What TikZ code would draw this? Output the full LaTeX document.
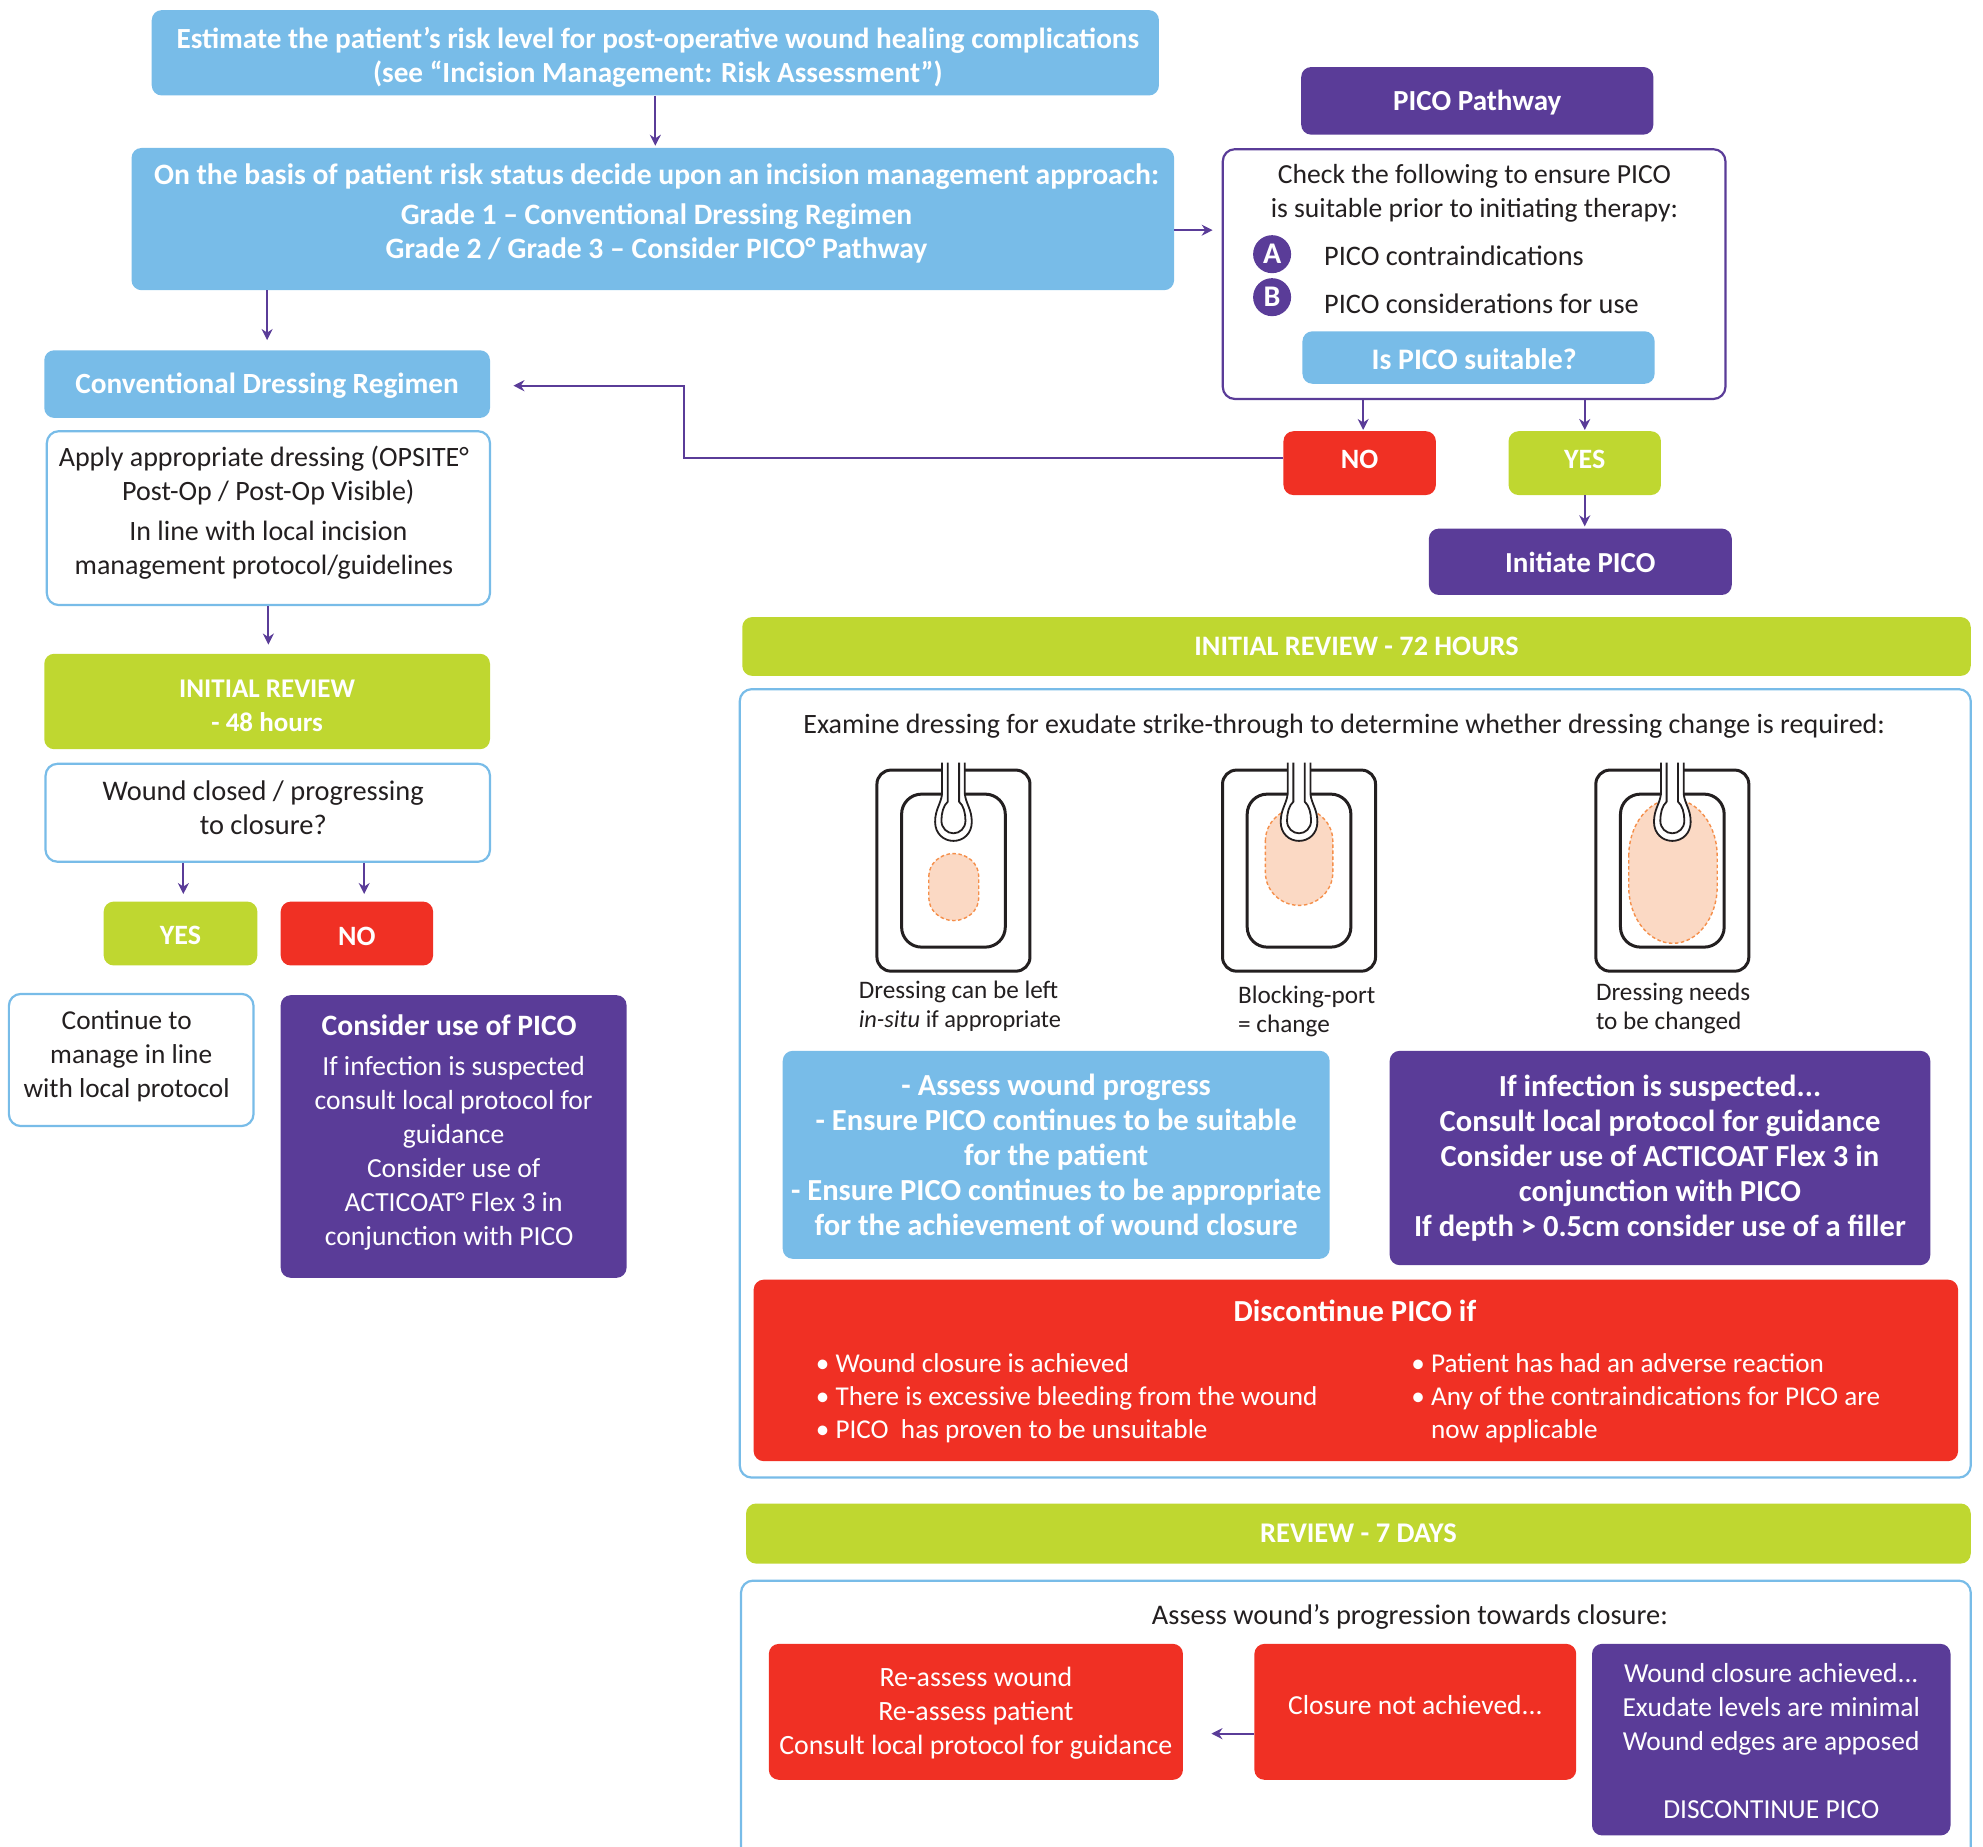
\documentclass[tikz,border=0pt]{standalone}
\usepackage{fontspec}
\setmainfont{Carlito}
\usetikzlibrary{arrows.meta}
\definecolor{cblue}{HTML}{78BCE8}
\definecolor{cpurple}{HTML}{5A3C98}
\definecolor{cgreen}{HTML}{BFD730}
\definecolor{cred}{HTML}{F03024}
\definecolor{cink}{HTML}{231F20}
\definecolor{cblob}{HTML}{FBD9C4}
\definecolor{cdash}{HTML}{F58F4A}
\newcommand\tdn[1]{\rule{0pt}{#1pt}}
\newcommand\tup[1]{\rule[-#1pt]{0pt}{#1pt}}
\newcommand\rk{\hspace*{9pt}}
\newcommand\rkk{\hspace*{12pt}}
\newcommand\lk[1]{\hspace*{#1pt}}
\newcommand\mybox[7]{%
 \pgfmathsetmacro\bcx{(#2+#4+.5)/2}\pgfmathsetmacro\bcy{(#3+#5+.5)/2}%
 \pgfmathsetmacro\bwd{(#4+.5-#2)*1.2645}\pgfmathsetmacro\bht{(#5+.5-#3)*1.2645}%
 \node[#6,minimum width=\bwd pt,minimum height=\bht pt,inner sep=0pt,align=center] (#1) at (\bcx,\bcy) {#7};}
\newcommand\myblob[5]{%
 \pgfmathsetmacro\xc{(#1+#3)/2}\pgfmathsetmacro\rx{(#3-#1)/2}%
 \fill[cblob] (#1,#2+#5) .. controls (#1,#2+.45*#5) and (\xc-.55*\rx,#2) .. (\xc,#2) .. controls (\xc+.55*\rx,#2) and (#3,#2+.45*#5) .. (#3,#2+#5) -- (#3,#4-#5) .. controls (#3,#4-.45*#5) and (\xc+.55*\rx,#4) .. (\xc,#4) .. controls (\xc-.55*\rx,#4) and (#1,#4-.45*#5) .. (#1,#4-#5) -- cycle;
 \draw[cdash,line width=1.4pt,dash pattern=on 3.5pt off 2.5pt] (#1,#2+#5) .. controls (#1,#2+.45*#5) and (\xc-.55*\rx,#2) .. (\xc,#2) .. controls (\xc+.55*\rx,#2) and (#3,#2+.45*#5) .. (#3,#2+#5) -- (#3,#4-#5) .. controls (#3,#4-.45*#5) and (\xc+.55*\rx,#4) .. (\xc,#4) .. controls (\xc-.55*\rx,#4) and (#1,#4-.45*#5) .. (#1,#4-#5) -- cycle;}
\newcommand\mydressing[1]{%
 \draw[cink,line width=3pt,rounded corners=14pt] (#1-60.5,609) rectangle (#1+60.5,768);
 \draw[cink,line width=3pt,rounded corners=20pt] (#1-41,628) rectangle (#1+41,749);}
\newcommand\myport[1]{%
 \draw[cink,line width=1.8pt,fill=white] (#1-9,603) -- (#1-9,628) .. controls (#1-10,636) and (#1-14.5,640) .. (#1-14.5,650) .. controls (#1-14.5,659) and (#1-8,665) .. (#1,665) .. controls (#1+8,665) and (#1+14.5,659) .. (#1+14.5,650) .. controls (#1+14.5,640) and (#1+10,636) .. (#1+9,628) -- (#1+9,603);
 \draw[cink,line width=1.8pt] (#1-4.5,603) -- (#1-4.5,634) .. controls (#1-8,637) and (#1-9.5,643) .. (#1-9.5,649) .. controls (#1-9.5,655) and (#1-5,659) .. (#1,659) .. controls (#1+5,659) and (#1+9.5,655) .. (#1+9.5,649) .. controls (#1+9.5,643) and (#1+8,637) .. (#1+4.5,634) -- (#1+4.5,603);}
\tikzset{
 sz/.style={font=\fontsize{#1}{34}\selectfont},
 bsz/.style={font=\bfseries\fontsize{#1}{34}\selectfont},
 bszl/.style={font=\bfseries\fontsize{#1}{35}\selectfont},
 dsz/.style={font=\fontsize{#1}{33}\selectfont},
 capsz/.style={font=\fontsize{25.2}{29}\selectfont},
 solid box/.style={rounded corners=10pt,fill=#1,text=white},
 blue frame/.style={rounded corners=12pt,draw=cblue,line width=2.2pt,fill=white,text=cink},
 purple frame/.style={rounded corners=12pt,draw=cpurple,line width=2.2pt,fill=white,text=cink},
 plain/.style={text=cink,inner sep=0pt},
 arr/.style={draw=cpurple,line width=2pt,-{Stealth[length=11pt,width=11pt]}},
 badge/.style={circle,fill=cpurple,text=white,minimum size=38pt,inner sep=0pt,font=\bfseries\fontsize{30}{30}\selectfont},
}
\begin{document}
\begin{tikzpicture}[x=1.2645pt,y=-1.2645pt]
\useasboundingbox (0,0) rectangle (1568.2,1459.9);
\clip (0,0) rectangle (1568.2,1459.9);
% top
\mybox{est}{120}{8}{916}{75}{solid box=cblue,bsz=29.2}{\tdn{31}\lk{5}Estimate the patient’s risk level for post-operative wound healing complications\\\lk{5}(see “Incision Management: Risk Assessment”)}
\mybox{dec}{104}{117}{928}{229}{solid box=cblue,bsz=29.6}{\lk{7.5}On the basis of patient risk status decide upon an incision management approach:\\[6pt]\lk{7.5}Grade 1 – Conventional Dressing Regimen\\\lk{7.5}Grade 2 / Grade 3 – Consider PICO° Pathway\tup{15}}
\mybox{path}{1029}{53}{1307}{106}{solid box=cpurple,bsz=29.1}{\tdn{23.5}PICO Pathway}
\mybox{check}{967}{118}{1364}{315}{purple frame}{}
\node[plain,sz=27.6,align=center] (checktxt) at (1166,153) {Check the following to ensure PICO\\is suitable prior to initiating therapy:};
\node[badge] (ba) at (1006,201) {A};
\node[badge] (bb) at (1006,235) {B};
\node[plain,sz=28.3,anchor=west] (ca) at (1047,202) {PICO contraindications};
\node[plain,sz=28.3,anchor=west] (cb) at (1047,240) {PICO considerations for use};
\mybox{suit}{1030}{262}{1308}{303}{solid box=cblue,bsz=29.8}{\tdn{25}Is PICO suitable?\rk}
\mybox{no1}{1015}{341}{1135}{391}{solid box=cred,bsz=28}{NO\tup{7.6}}
\mybox{yes1}{1193}{341}{1313}{391}{solid box=cgreen,bsz=28}{YES\tup{7.6}}
\mybox{init}{1130}{418}{1369}{470}{solid box=cpurple,bsz=29}{\tdn{22}Initiate PICO}
% left column
\mybox{conv}{35}{277}{387}{330}{solid box=cblue,bsz=29.3}{\tdn{24.5}Conventional Dressing Regimen}
\mybox{apply}{37}{341}{387}{478}{blue frame,sz=28}{Apply appropriate dressing (OPSITE°\rk\\Post-Op / Post-Op Visible)\rk\\[6pt]In line with local incision\rk\\management protocol/guidelines\rk\tup{15.5}}
\mybox{rev48}{35}{517}{387}{592}{solid box=cgreen,bsz=27}{\tdn{26.5}INITIAL REVIEW\\- 48 hours}
\mybox{wound}{36}{604}{387}{681}{blue frame,sz=28.4}{Wound closed / progressing\rk\\to closure?\rk\tup{10}}
\mybox{yes2}{82}{713}{203}{763}{solid box=cgreen,bsz=28}{\tdn{23}YES}
\mybox{no2}{222}{713}{342}{763}{solid box=cred,bsz=28}{\tdn{24.5}NO}
\mybox{cont}{7}{786}{200}{890}{blue frame,sz=27.3}{Continue to\rk\\manage in line\rk\\with local protocol\rk\tup{12}}
\mybox{cons}{222}{787}{495}{1010}{solid box=cpurple,sz=27.6}{{\bfseries\fontsize{29.6}{34}\selectfont Consider use of PICO}\rk\\[6pt]If infection is suspected\rkk\\consult local protocol for\rkk\\guidance\rkk\\Consider use of\rkk\\ACTICOAT° Flex 3 in\rkk\\conjunction with PICO\rk\tup{12}}
% 72 hours
\mybox{rev72}{587}{488}{1558}{534}{solid box=cgreen,bsz=28.2}{INITIAL REVIEW - 72 HOURS}
\mybox{frame72}{585}{545}{1558}{1168}{blue frame}{}
\node[plain,sz=28] (examine) at (1063,574) {Examine dressing for exudate strike-through to determine whether dressing change is required:};
\mydressing{754}\myblob{734.5}{675}{774}{728}{18}\myport{754}
\mydressing{1027.3}\myblob{1000.7}{639}{1054}{716}{26}\myport{1027.3}
\mydressing{1322.5}\myblob{1288}{632}{1358}{746}{45}\myport{1322.5}
\node[plain,capsz,align=left,anchor=north west] (cap1) at (679,776) {Dressing can be left\\{\fontsize{24.4}{29}\selectfont\textit{in-situ} if appropriate}};
\node[plain,capsz,align=left,anchor=north west] (cap2) at (979,779.5) {Blocking-port\\= change};
\node[plain,capsz,align=left,anchor=north west] (cap3) at (1262,777) {Dressing needs\\to be changed};
\mybox{assess}{619}{831}{1051}{995}{solid box=cblue,bszl=30.6}{- Assess wound progress\\- Ensure PICO continues to be suitable\\for the patient\\- Ensure PICO continues to be appropriate\\for the achievement of wound closure}
\mybox{infect}{1099}{831}{1526}{1000}{solid box=cpurple,bszl=30.6}{If infection is suspected...\\Consult local protocol for guidance\\Consider use of ACTICOAT Flex 3 in\\conjunction with PICO\\If depth > 0.5cm consider use of a filler}
\mybox{disc}{596}{1012}{1548}{1155}{solid box=cred}{}
\node[text=white,inner sep=0pt,bsz=30.6] (disctitle) at (1071.5,1037) {Discontinue PICO if};
\node[text=white,inner sep=0pt,dsz=27.2,align=left,anchor=north west] (discl) at (645,1070) {• Wound closure is achieved\\• There is excessive bleeding from the wound\\• PICO\ \ has proven to be unsuitable};
\node[text=white,inner sep=0pt,dsz=27.2,align=left,anchor=north west] (discr) at (1116,1070) {• Patient has had an adverse reaction\\• Any of the contraindications for PICO are\\\phantom{• }now applicable};
% 7 days
\mybox{rev7}{590}{1189}{1558}{1236}{solid box=cgreen,bsz=28.5}{REVIEW - 7 DAYS}
\mybox{frame7}{586}{1250}{1558}{1490}{blue frame}{}
\node[plain,sz=28.4] (progress) at (1115,1279) {Assess wound’s progression towards closure:};
\mybox{reass}{608}{1300}{935}{1407}{solid box=cred,sz=27.9}{\tdn{22.6}Re-assess wound\\Re-assess patient\\Consult local protocol for guidance}
\mybox{notach}{992}{1300}{1246}{1407}{solid box=cred,sz=27.5}{Closure not achieved...\tup{13}}
\mybox{ach}{1259}{1300}{1542}{1451}{solid box=cpurple,sz=27.5}{\tdn{22.6}Wound closure achieved...\\Exudate levels are minimal\\Wound edges are apposed\\[34pt]DISCONTINUE PICO}
% free ends
\coordinate (checkin) at (959,182);
\coordinate (noin) at (1078,340);
\coordinate (noturn) at (541,362);
\coordinate (convin) at (406,305);
\coordinate (y2in) at (145,707);
\coordinate (n2in) at (288,707);
\coordinate (reassin) at (958,1371);
% connectors
\draw[arr,shorten >=2pt] (est.south) -- (est.south |- dec.north);
\draw[arr,shorten >=10pt] (conv.north |- dec.south) -- (conv.north);
\draw[arr] (dec.east |- checkin) -- (checkin);
\draw[arr] (check.south -| noin) -- (noin);
\draw[arr,shorten >=1pt] (yes1.north |- check.south) -- (yes1.north);
\draw[arr,shorten >=2pt] (yes1.south) -- (yes1.south |- init.north);
\draw[arr] (no1.west |- noturn) -- (noturn) |- (convin);
\draw[arr,shorten >=9pt] (apply.south) -- (apply.south |- rev48.north);
\draw[arr] (wound.south -| y2in) -- (y2in);
\draw[arr] (wound.south -| n2in) -- (n2in);
\draw[arr] (notach.west |- reassin) -- (reassin);
\end{tikzpicture}
\end{document}
